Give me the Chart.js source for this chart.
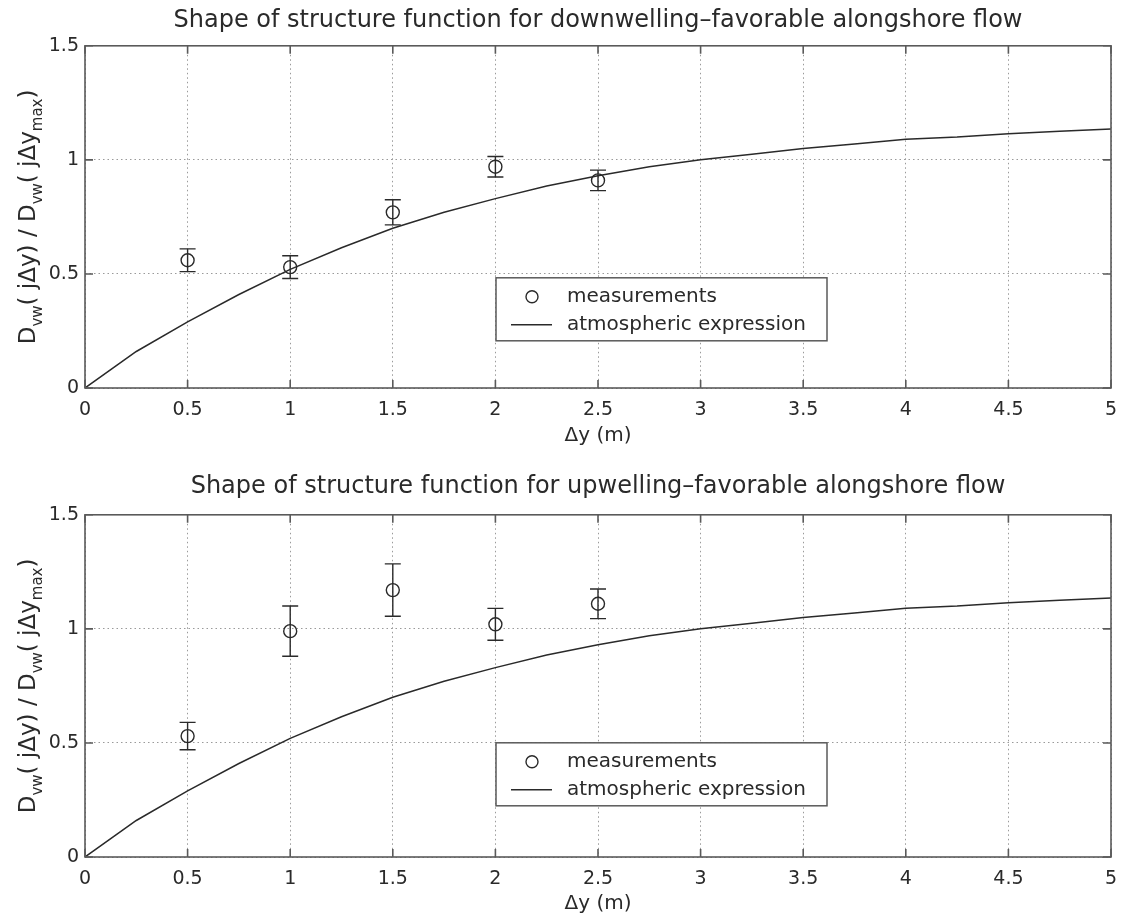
<!DOCTYPE html>
<html>
<head>
<meta charset="utf-8">
<script src="https://cdn.jsdelivr.net/npm/chart.js@4.4.1/dist/chart.umd.min.js"></script>
<style>
  html, body { margin: 0; padding: 0; background: #fff; }
  .panel { position: absolute; left: 0; width: 1122px; }
  #top { top: 0; height: 460px; }
  #bottom { top: 460px; height: 464px; }
</style>
</head>
<body>
<div class="panel" id="top"><canvas id="chartDown"></canvas></div>
<div class="panel" id="bottom"><canvas id="chartUp"></canvas></div>
<script>
// measured separations and normalised structure function (mean, error half-width)
const sepDistances = [0.5, 1, 1.5, 2, 2.5];
const downMeans = [0.56, 0.53, 0.77, 0.97, 0.91];
const downErrors = [0.05, 0.05, 0.055, 0.045, 0.045];
const upMeans = [0.53, 0.99, 1.17, 1.02, 1.11];
const upErrors = [0.06, 0.11, 0.115, 0.07, 0.065];

// atmospheric expression
const modelX = [0, 0.25, 0.5, 0.75, 1, 1.25, 1.5, 1.75, 2, 2.25, 2.5, 2.75, 3, 3.25, 3.5, 3.75, 4, 4.25, 4.5, 4.75, 5];
const modelY = [0, 0.16, 0.29, 0.41, 0.52, 0.615, 0.70, 0.77, 0.83, 0.885, 0.93, 0.97, 1.0, 1.025, 1.05, 1.07, 1.09, 1.10, 1.115, 1.125, 1.135];

const xTicks = [0, 0.5, 1, 1.5, 2, 2.5, 3, 3.5, 4, 4.5, 5];
const yTicks = [0, 0.5, 1, 1.5];

const FONT = "'DejaVu Sans', 'Liberation Sans', Arial, sans-serif";
const INK = '#2a2a2a';
const FRAME = '#5a5a5a';

const extrasPlugin = {
    id: 'extras',
    afterDatasetsDraw(chart, args, opts) {
        const ctx = chart.ctx;
        const xs = chart.scales.x, ys = chart.scales.y;
        ctx.save();
        ctx.strokeStyle = INK;
        ctx.lineWidth = 1.4;
        opts.means.forEach((m, i) => {
            const px = xs.getPixelForValue(sepDistances[i]);
            const hi = ys.getPixelForValue(m + opts.errors[i]);
            const lo = ys.getPixelForValue(m - opts.errors[i]);
            ctx.beginPath();
            ctx.moveTo(px, hi); ctx.lineTo(px, lo);
            ctx.moveTo(px - 8, hi); ctx.lineTo(px + 8, hi);
            ctx.moveTo(px - 8, lo); ctx.lineTo(px + 8, lo);
            ctx.stroke();
        });
        ctx.restore();
    },
    afterDraw(chart, args, opts) {
        const ctx = chart.ctx;
        const a = chart.chartArea;
        const xs = chart.scales.x, ys = chart.scales.y;
        ctx.save();
        // box and inward ticks
        ctx.strokeStyle = FRAME;
        ctx.lineWidth = 1.6;
        ctx.strokeRect(a.left, a.top, a.right - a.left, a.bottom - a.top);
        ctx.beginPath();
        xTicks.forEach(v => {
            const p = xs.getPixelForValue(v);
            ctx.moveTo(p, a.bottom); ctx.lineTo(p, a.bottom - 8);
            ctx.moveTo(p, a.top); ctx.lineTo(p, a.top + 8);
        });
        yTicks.forEach(v => {
            const p = ys.getPixelForValue(v);
            ctx.moveTo(a.left, p); ctx.lineTo(a.left + 8, p);
            ctx.moveTo(a.right, p); ctx.lineTo(a.right - 8, p);
        });
        ctx.stroke();

        // legend
        const lx = a.left + opts.legendLeft, ly = a.top + opts.legendTop;
        ctx.fillStyle = '#fff';
        ctx.fillRect(lx, ly, 331, 63);
        ctx.strokeStyle = FRAME;
        ctx.lineWidth = 1.5;
        ctx.strokeRect(lx, ly, 331, 63);
        ctx.strokeStyle = INK;
        ctx.lineWidth = 1.4;
        ctx.beginPath();
        ctx.arc(lx + 36, ly + 19, 6, 0, Math.PI * 2);
        ctx.stroke();
        ctx.beginPath();
        ctx.moveTo(lx + 15, ly + 47); ctx.lineTo(lx + 56, ly + 47);
        ctx.stroke();
        ctx.fillStyle = INK;
        ctx.font = '20px ' + FONT;
        ctx.textBaseline = 'middle';
        ctx.fillText('measurements', lx + 71, ly + 19);
        ctx.fillText('atmospheric expression', lx + 71, ly + 47);

        // y-axis label with subscripts, rotated
        const parts = [['D', 0], ['vw', 1], ['( j\u0394y) / D', 0], ['vw', 1], ['( j\u0394y', 0], ['max', 1], [')', 0]];
        const big = '23px ' + FONT, small = '15px ' + FONT;
        let total = 0;
        parts.forEach(p => { ctx.font = p[1] ? small : big; total += ctx.measureText(p[0]).width; });
        ctx.translate(35, (a.top + a.bottom) / 2);
        ctx.rotate(-Math.PI / 2);
        ctx.textBaseline = 'alphabetic';
        let cx = -total / 2;
        parts.forEach(p => {
            ctx.font = p[1] ? small : big;
            ctx.fillText(p[0], cx, p[1] ? 7 : 0);
            cx += ctx.measureText(p[0]).width;
        });
        ctx.restore();
    }
};

function makeChart(id, titleText, means, errors, titlePad, xHeight, padBottom, legendTop) {
    return new Chart(document.getElementById(id), {
        type: 'scatter',
        data: {
            datasets: [{
                label: 'measurements',
                data: sepDistances.map((x, i) => ({ x: x, y: means[i] })),
                pointStyle: 'circle',
                pointRadius: 6.5,
                pointBorderWidth: 1.4,
                pointBorderColor: INK,
                pointBackgroundColor: 'rgba(0,0,0,0)',
                showLine: false
            }, {
                label: 'atmospheric expression',
                type: 'line',
                data: modelX.map((x, i) => ({ x: x, y: modelY[i] })),
                borderColor: INK,
                borderWidth: 1.5,
                pointRadius: 0,
                tension: 0,
                fill: false
            }]
        },
        options: {
            responsive: true,
            maintainAspectRatio: false,
            animation: false,
            layout: { padding: { left: 0, right: 11, top: 0, bottom: padBottom } },
            plugins: {
                legend: { display: false },
                tooltip: { enabled: false },
                title: {
                    display: true,
                    text: titleText,
                    fullSize: false,
                    color: INK,
                    font: { family: FONT, size: 24, weight: 'normal' },
                    padding: titlePad
                },
                extras: { means: means, errors: errors, legendLeft: 411, legendTop: legendTop }
            },
            scales: {
                x: {
                    type: 'linear',
                    min: 0, max: 5,
                    afterBuildTicks: s => { s.ticks = xTicks.map(v => ({ value: v })); },
                    afterFit: s => { s.height = xHeight; s.paddingRight = 0; s.paddingLeft = 0; },
                    ticks: { color: INK, font: { family: FONT, size: 19 }, padding: 11, maxRotation: 0, callback: v => String(v) },
                    grid: { color: '#9a9a9a', lineWidth: 1, drawTicks: false },
                    border: { display: false, dash: [1.5, 3] },
                    title: { display: true, text: '\u0394y (m)', color: INK, font: { family: FONT, size: 20 }, padding: { top: 0, bottom: 0 } }
                },
                y: {
                    min: 0, max: 1.5,
                    afterBuildTicks: s => { s.ticks = yTicks.map(v => ({ value: v })); },
                    afterFit: s => { s.width = 85; },
                    ticks: { color: INK, font: { family: FONT, size: 19 }, padding: 6, callback: v => String(v) },
                    grid: { color: '#9a9a9a', lineWidth: 1, drawTicks: false },
                    border: { display: false, dash: [1.5, 3] }
                }
            }
        },
        plugins: [extrasPlugin]
    });
}

makeChart('chartDown', 'Shape of structure function for downwelling\u2013favorable alongshore flow',
    downMeans, downErrors, { top: 6, bottom: 11 }, 60, 12, 232);
makeChart('chartUp', 'Shape of structure function for upwelling\u2013favorable alongshore flow',
    upMeans, upErrors, { top: 12, bottom: 14 }, 59, 8, 228);
</script>
</body>
</html>
